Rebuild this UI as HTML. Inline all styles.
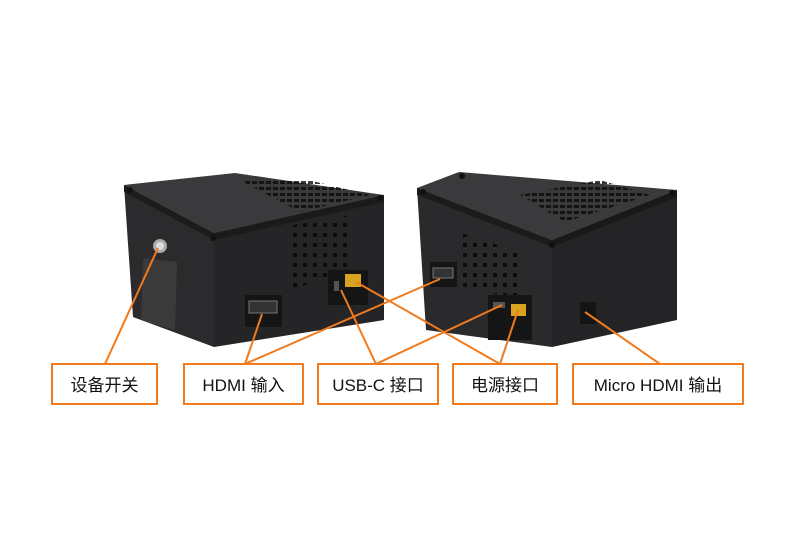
<!DOCTYPE html>
<html><head><meta charset="utf-8"><style>
html,body{margin:0;padding:0;background:#fff;}
svg{display:block}
text{font-family:"Liberation Sans","Noto Sans CJK SC",sans-serif;}
</style></head><body>
<svg width="796" height="538" viewBox="0 0 796 538" xmlns="http://www.w3.org/2000/svg">
<defs>
<pattern id="holes" width="10" height="10" patternUnits="userSpaceOnUse"><rect x="3" y="3" width="4" height="4" fill="#0c0c0c"/></pattern>
<pattern id="slots" width="7" height="6" patternUnits="userSpaceOnUse"><rect x="0" y="1" width="5" height="3" fill="#0a0a0a"/></pattern>
</defs>
<!-- Left box -->
<polygon points="124,185 235,173 384,195 214,233" fill="#3a3a3c"/>
<polygon points="124,185 214,233 214,347 133,317" fill="#2b2b2d"/>
<polygon points="214,233 384,195 384,320 214,347" fill="#252527"/>
<polygon points="124,185 214,233 214,240 124,192" fill="#1c1c1d"/>
<polygon points="214,233 384,195 384,202 214,240" fill="#1a1a1b"/>
<polygon points="240,180 300,178 370,195 300,212" fill="url(#slots)" opacity="0.8"/>
<circle cx="130" cy="190" r="3" fill="#111"/><circle cx="213" cy="238" r="3" fill="#111"/><circle cx="380" cy="198" r="3" fill="#111"/>
<circle cx="160" cy="246" r="7" fill="#aaa"/><circle cx="160" cy="246" r="4" fill="#ddd"/>
<polygon points="143,258 177,262 175,330 141,320" fill="#3a3a3b"/>
<polygon points="293,225 352,215 352,275 293,288" fill="url(#holes)"/>
<rect x="245" y="295" width="37" height="32" fill="#151515"/>
<rect x="249" y="301" width="28" height="12" fill="#333" stroke="#777" stroke-width="1"/>
<rect x="328" y="270" width="40" height="35" fill="#151515"/>
<rect x="334" y="281" width="5" height="10" fill="#555"/>
<rect x="345" y="274" width="16" height="13" fill="#d8a420"/>
<!-- Right box -->
<polygon points="417,188 459,172 677,190 552,240" fill="#3a3a3c"/>
<polygon points="417,188 552,240 552,347 426,330" fill="#2a2a2c"/>
<polygon points="552,240 677,190 677,320 552,347" fill="#242426"/>
<polygon points="417,188 552,240 552,247 417,195" fill="#1b1b1c"/>
<polygon points="552,240 677,190 677,197 552,247" fill="#19191a"/>
<polygon points="520,195 600,180 650,195 565,222" fill="url(#slots)" opacity="0.8"/>
<circle cx="423" cy="192" r="3" fill="#111"/><circle cx="552" cy="245" r="3" fill="#111"/><circle cx="672" cy="193" r="3" fill="#111"/><circle cx="462" cy="176" r="3" fill="#111"/>
<polygon points="458,232 520,252 520,300 458,285" fill="url(#holes)"/>
<rect x="430" y="262" width="27" height="25" fill="#151515"/>
<rect x="433" y="268" width="20" height="10" fill="#333" stroke="#777" stroke-width="1"/>
<rect x="488" y="295" width="44" height="45" fill="#151515"/>
<rect x="493" y="302" width="12" height="6" fill="#555"/>
<rect x="511" y="304" width="15" height="12" fill="#d8a420"/>
<rect x="580" y="302" width="16" height="22" fill="#141414"/>
<!-- lines -->
<g stroke="#f07a1c" stroke-width="2" fill="none">
<line x1="158" y1="248" x2="105" y2="364"/>
<line x1="262" y1="314" x2="245" y2="364"/>
<line x1="440" y1="279" x2="245" y2="364"/>
<line x1="341" y1="290" x2="376" y2="364"/>
<line x1="502" y1="305" x2="376" y2="364"/>
<line x1="356" y1="282" x2="500" y2="364"/>
<line x1="518" y1="310" x2="500" y2="364"/>
<line x1="585" y1="312" x2="660" y2="364"/>
</g>
<!-- labels -->
<g fill="#fff" stroke="#f07a1c" stroke-width="2">
<rect x="52" y="364" width="105" height="40"/>
<rect x="184" y="364" width="119" height="40"/>
<rect x="318" y="364" width="120" height="40"/>
<rect x="453" y="364" width="104" height="40"/>
<rect x="573" y="364" width="170" height="40"/>
</g>
<g font-size="17" fill="#111" text-anchor="middle">
<text x="104.5" y="391">设备开关</text>
<text x="243.5" y="391">HDMI 输入</text>
<text x="378" y="391">USB-C 接口</text>
<text x="505" y="391">电源接口</text>
<text x="658" y="391">Micro HDMI 输出</text>
</g>
</svg>
</body></html>
